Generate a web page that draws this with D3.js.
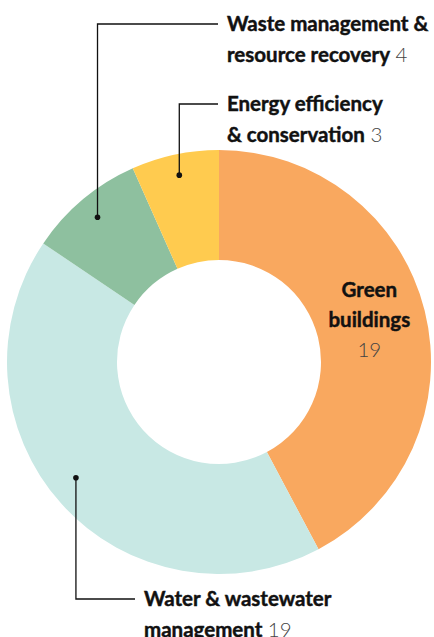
<!DOCTYPE html>
<html>
<head>
<meta charset="utf-8">
<script src="https://cdn.jsdelivr.net/npm/d3@7"></script>
<style>
  body { margin: 0; background: #fff; }
  svg { display: block; }
  .label { font-family: 'Source Sans Pro', Lato, sans-serif; font-size: 20.5px; fill: #111; }
  .label .name { font-weight: 700; stroke: #111; stroke-width: 0.45; }
  .label .num { font-weight: 300; fill: #444; stroke: none; }
  .leader { fill: none; stroke: #111; stroke-width: 1.3; }
</style>
</head>
<body>
<div class="container"></div>
<script>
const categories = ['Green buildings', 'Water & wastewater management', 'Waste management & resource recovery', 'Energy efficiency & conservation'];
const values = [19, 19, 4, 3];
const colors = ['#f9a85f', '#c8e8e4', '#8ec09f', '#ffcb4f'];
// label lines as printed
const labelLines = [
  ['Green', 'buildings'],
  ['Water & wastewater', 'management'],
  ['Waste management &', 'resource recovery'],
  ['Energy efficiency', '& conservation']
];

const width = 434;
const height = 637;
const cx = 219;
const cy = 362;
const outer = 212;
const inner = 102;
const lineGap = 31;

const svg = d3
  .select('.container')
  .append('svg')
  .attr('width', width)
  .attr('height', height);

const graph = svg.append('g').attr('transform', `translate(${cx}, ${cy})`);

const pie = d3.pie().sort(null).value(d => d.value);
const arc = d3.arc().innerRadius(inner).outerRadius(outer);

const data = categories.map((c, i) => ({ name: c, value: values[i], color: colors[i], lines: labelLines[i] }));
const arcs = pie(data);

graph
  .selectAll('path')
  .data(arcs)
  .enter()
  .append('path')
  .attr('d', arc)
  .attr('fill', d => d.data.color);

// inside label for the big slice
const g0 = arcs[0];
const [lx, ly] = arc.centroid(g0);
const inside = graph.append('text').attr('class', 'label').attr('text-anchor', 'middle');
g0.data.lines.forEach((l, i) => {
  inside.append('tspan').attr('class', 'name').attr('x', lx - 2).attr('y', ly - 27 + i * 30).text(l);
});
inside.append('tspan').attr('class', 'num').attr('x', lx - 2).attr('y', ly + 33).text(g0.data.value);

// outside labels with elbow leaders: t = position along slice, r = radius of dot
const callouts = [
  { i: 1, t: 0.52, r: 184, tx: 144, ty: 599 },
  { i: 2, t: 0.5, r: 189, tx: 227, ty: 24 },
  { i: 3, t: 0.5, r: 191, tx: 227, ty: 104 }
];

callouts.forEach(c => {
  const a = arcs[c.i];
  const ang = a.startAngle + (a.endAngle - a.startAngle) * c.t;
  const px = c.r * Math.sin(ang);
  const py = -c.r * Math.cos(ang);
  const ex = c.tx - cx - 9;
  const ey = c.ty - cy;

  graph
    .append('path')
    .attr('class', 'leader')
    .attr('d', `M${px},${py}V${ey}H${ex}`);

  graph
    .append('circle')
    .attr('cx', px)
    .attr('cy', py)
    .attr('r', 2.8)
    .attr('fill', '#111');

  const text = svg.append('text').attr('class', 'label');
  a.data.lines.forEach((l, k) => {
    text
      .append('tspan')
      .attr('class', 'name')
      .attr('x', c.tx)
      .attr('y', c.ty + 7 + k * lineGap)
      .text(l);
  });
  text.append('tspan').attr('class', 'num').text('\u00a0' + a.data.value);
});
</script>
</body>
</html>
